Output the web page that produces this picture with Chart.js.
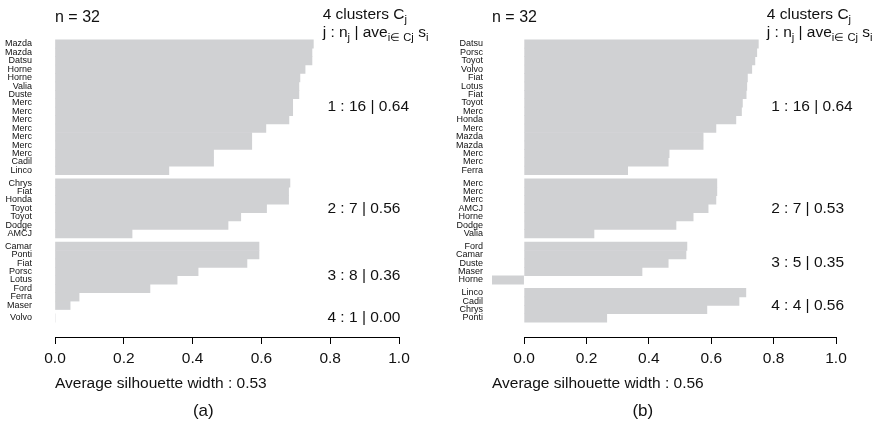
<!DOCTYPE html>
<html>
<head>
<meta charset="utf-8">
<script src="https://cdn.jsdelivr.net/npm/chart.js@4.4.1/dist/chart.umd.min.js"></script>
<style>
html,body{margin:0;padding:0;background:#fff;}
#wrap{position:relative;width:879px;height:427px;overflow:hidden;}
canvas{position:absolute;top:0;}
#silA{left:0;}
#silB{left:440px;}
</style>
</head>
<body>
<div id="wrap">
  <canvas id="silA" width="440" height="427"></canvas>
  <canvas id="silB" width="439" height="427"></canvas>
</div>
<script>
/* ---------- data: panel (a) ---------- */
const namesA = ['Mazda','Mazda','Datsu','Horne','Horne','Valia','Duste','Merc','Merc','Merc','Merc','Merc','Merc','Merc','Cadil','Linco',
  'Chrys','Fiat','Honda','Toyot','Toyot','Dodge','AMCJ',
  'Camar','Ponti','Fiat','Porsc','Lotus','Ford','Ferra','Maser',
  'Volvo'];
const silA = [0.751,0.747,0.747,0.727,0.712,0.709,0.709,0.691,0.691,0.680,0.613,0.572,0.572,0.461,0.461,0.331,
  0.683,0.679,0.679,0.615,0.540,0.503,0.224,
  0.593,0.593,0.558,0.416,0.355,0.276,0.070,0.044,
  0.000];
const sizesA = [16,7,8,1];
const avgA = [0.64,0.56,0.36,0.00];
const overallA = 0.53;

/* ---------- data: panel (b) ---------- */
const namesB = ['Datsu','Porsc','Toyot','Volvo','Fiat','Lotus','Fiat','Toyot','Merc','Honda','Merc','Mazda','Mazda','Merc','Merc','Ferra',
  'Merc','Merc','Merc','AMCJ','Horne','Dodge','Valia',
  'Ford','Camar','Duste','Maser','Horne',
  'Linco','Cadil','Chrys','Ponti'];
const silB = [0.751,0.746,0.740,0.730,0.716,0.714,0.712,0.700,0.697,0.679,0.615,0.574,0.574,0.465,0.462,0.332,
  0.618,0.618,0.615,0.590,0.542,0.487,0.224,
  0.522,0.519,0.462,0.378,-0.103,
  0.711,0.689,0.586,0.265];
const sizesB = [16,7,5,4];
const avgB = [0.64,0.53,0.35,0.56];
const overallB = 0.56;

const nObs = 32;
const xTicks = [0,0.2,0.4,0.6,0.8,1.0];

/* ---------- helpers ---------- */
const FONT = '"Liberation Sans", Arial, Helvetica, sans-serif';
const TXT = '#111';
// row positions: one unit per bar, half a unit between clusters
function rowPositions(sizes){
  const pos = []; let p = 0;
  sizes.forEach((n,c)=>{
    if(c>0) p += 0.5;
    for(let i=0;i<n;i++){ pos.push(p); p += 1; }
  });
  return pos;
}
// text with subscripts: runs = [[text, level]]
function drawRuns(ctx, x, y, runs, size){
  let cx = x;
  runs.forEach(([t,lvl])=>{
    const fs = lvl ? size*0.72 : size;
    ctx.font = fs+'px '+FONT;
    ctx.fillText(t, cx, y + lvl*4);
    cx += ctx.measureText(t).width;
  });
}

/* ---------- annotation plugin ---------- */
const silText = {
  id:'silText',
  afterDraw(chart, args, o){
    const ctx = chart.ctx, ca = chart.chartArea;
    const xs = chart.scales.x, ys = chart.scales.y;
    ctx.save();
    // axis line only from 0 to 1, like R
    ctx.strokeStyle = '#000'; ctx.lineWidth = 1;
    const yb = Math.round(ca.bottom)+0.5;
    ctx.beginPath();
    ctx.moveTo(xs.getPixelForValue(0), yb);
    ctx.lineTo(xs.getPixelForValue(1), yb);
    ctx.stroke();

    ctx.fillStyle = TXT;
    ctx.textBaseline = 'alphabetic';
    ctx.textAlign = 'left';
    ctx.font = '16px '+FONT;
    ctx.fillText('n = '+o.n, ca.left, 22);

    const hx = xs.getPixelForValue(0.778);
    drawRuns(ctx, hx, 18.5, [[o.sizes.length+' clusters C',0],['j',1]], 15.5);
    drawRuns(ctx, hx, 37, [['j : n',0],['j',1],[' | ave',0],['i\u2208 Cj',1],[' s',0],['i',1]], 15.5);

    // cluster summaries at the middle of each cluster
    ctx.font = '15.5px '+FONT;
    ctx.textBaseline = 'middle';
    const lx = xs.getPixelForValue(0.792);
    let k = 0;
    o.sizes.forEach((n,c)=>{
      const mid = (o.pos[k] + o.pos[k+n-1]) / 2;
      ctx.fillText((c+1)+' : '+n+' | '+o.avg[c].toFixed(2), lx, ys.getPixelForValue(mid));
      k += n;
    });

    ctx.textBaseline = 'alphabetic';
    ctx.font = '15.5px '+FONT;
    ctx.fillText('Average silhouette width : '+o.overall.toFixed(2), ca.left, 388);
    ctx.textAlign = 'center';
    ctx.font = '17px '+FONT;
    ctx.fillText(o.tag, chart.width*0.462, 416);
    ctx.restore();
  }
};

/* ---------- build one panel ---------- */
function silPanel(id, names, sil, sizes, avg, overall, tag, yWidth, padRight, labelPad){
  const pos = rowPositions(sizes);
  const xmin = Math.min(0, ...sil);
  return new Chart(document.getElementById(id), {
    type:'bar',
    data:{
      datasets:[{
        data: sil.map((v,i)=>({x:v, y:pos[i]})),
        backgroundColor:'#d0d1d3',
        borderWidth:0,
        barPercentage:1,
        categoryPercentage:1
      }]
    },
    options:{
      indexAxis:'y',
      responsive:false,
      animation:false,
      layout:{padding:{top:35, right:padRight, bottom:0, left:0}},
      scales:{
        x:{
          type:'linear', min:xmin, max:1,
          afterBuildTicks:s=>{ s.ticks = xTicks.map(v=>({value:v})); },
          afterFit:s=>{ s.height = 90; },
          border:{display:false},
          grid:{display:true, drawOnChartArea:false, drawTicks:true, tickLength:7, color:'#000', tickColor:'#000'},
          ticks:{color:TXT, padding:5, font:{family:FONT, size:15.5}, callback:v=>v.toFixed(1), autoSkip:false, maxRotation:0}
        },
        y:{
          type:'linear', reverse:true, min:-0.5, max:34.2,
          afterBuildTicks:s=>{ s.ticks = pos.map(v=>({value:v})); },
          afterFit:s=>{ s.width = yWidth; },
          border:{display:false},
          grid:{display:false, drawTicks:false},
          ticks:{color:TXT, padding:labelPad, font:{family:FONT, size:9}, autoSkip:false, callback:(v,i)=>names[i]}
        }
      },
      plugins:{
        legend:{display:false},
        tooltip:{enabled:false},
        silText:{n:nObs, sizes, avg, overall, tag, pos}
      }
    },
    plugins:[silText]
  });
}

silPanel('silA', namesA, silA, sizesA, avgA, overallA, '(a)', 55, 41, 23);
silPanel('silB', namesB, silB, sizesB, avgB, overallB, '(b)', 52, 43, 9);
</script>
</body>
</html>
